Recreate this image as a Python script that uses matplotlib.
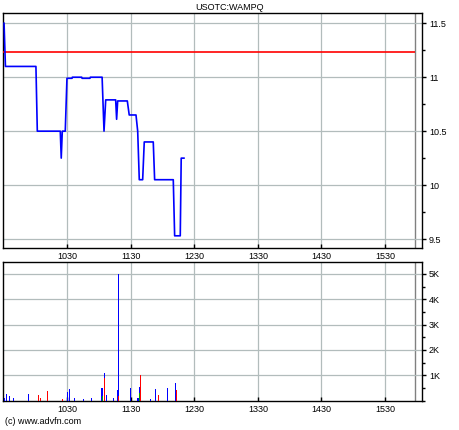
import matplotlib
matplotlib.use("Agg")
import matplotlib.pyplot as plt
from matplotlib.ticker import FixedLocator, FuncFormatter, MultipleLocator

# ---- data (minutes after 09:30) ----
title = "USOTC:WAMPQ"
price_t = [0.3, 1.6, 30.4, 31.7, 53.4, 54.3, 55.3, 58.1, 59.7, 64.5, 64.8, 73.6,
           74.0, 81.4, 81.8, 92.9, 94.7, 96.3, 105.7, 106.6, 107.6, 116.7, 118.5,
           124.9, 126.5, 128.0, 131.2, 132.7, 141.2, 142.5, 160.1, 161.4, 166.7,
           167.6, 170.2]
price_v = [11.5, 11.1, 11.1, 10.5, 10.5, 10.25, 10.5, 10.5, 10.99, 10.99, 11.0, 11.0,
           10.99, 10.99, 11.0, 11.0, 10.5, 10.79, 10.79, 10.61, 10.78, 10.78, 10.65,
           10.65, 10.5, 10.05, 10.05, 10.4, 10.4, 10.05, 10.05, 9.53, 9.53,
           10.25, 10.25]
prev_close = 11.23

vol_blue_t = [0.5, 2.2, 5.0, 8.8, 23.0, 60.2, 61.9, 66.6, 75.1, 82.7, 92.8, 93.7,
              94.9, 96.8, 103.4, 107.2, 108.1, 119.9, 126.8, 128.0, 138.4, 143.1,
              154.5, 162.0]
vol_blue_v = [120, 260, 190, 100, 260, 340, 470, 120, 70, 100, 510, 400,
              1100, 230, 120, 430, 5000, 510, 120, 550, 70, 470, 510, 710]
vol_red_t = [32.6, 34.5, 41.1, 55.3, 94.9, 108.0, 129.0, 146.0, 163.0]
vol_red_v = [230, 120, 400, 60, 880, 190, 1000, 230, 430]
vol_green_t = [93.0, 128.0]
vol_green_v = [200, 300]

x_ticks = [60, 120, 180, 240, 300, 360]
close_t = 388
xlim = (-0.7, 395)

FONT = "Liberation Sans"
FS = 6.5
GRID = "#b2bcbc"

def hhmm(m, pos=None):
    tot = 9 * 60 + 30 + int(round(m))
    return f"{tot // 60}{tot % 60:02d}"

fig = plt.figure(figsize=(4.6, 4.3), dpi=100)
ax1 = fig.add_axes([3 / 460, 1 - 248 / 430, 419 / 460, (248 - 12.7) / 430])
ax2 = fig.add_axes([3 / 460, 1 - 400.7 / 430, 419 / 460, (400.7 - 262) / 430])

for ax in (ax1, ax2):
    ax.set_xlim(*xlim)
    ax.xaxis.set_major_locator(FixedLocator(x_ticks))
    ax.xaxis.set_major_formatter(FuncFormatter(hhmm))
    ax.grid(True, color=GRID, lw=0.9, zorder=0)
    ax.axvline(close_t, color="#808080", lw=1, zorder=1)
    ax.yaxis.tick_right()
    ax.tick_params(axis="x", direction="in", length=3, width=1, pad=3,
                   labelsize=FS, bottom=True, top=False)
    ax.tick_params(axis="y", which="both", direction="out", right=True, left=False,
                   labelsize=FS, pad=2, width=1)
    ax.tick_params(axis="y", which="major", length=3)
    ax.tick_params(axis="y", which="minor", length=2)
    for lab in ax.get_xticklabels() + ax.get_yticklabels():
        lab.set_fontfamily(FONT)
    for s in ax.spines.values():
        s.set_linewidth(1)
        s.set_color("black")

# price panel
ax1.set_ylim(9.417, 11.598)
ax1.yaxis.set_major_locator(FixedLocator([9.5, 10, 10.5, 11, 11.5]))
ax1.yaxis.set_major_formatter(FuncFormatter(lambda v, p: f"{v:g}"))
ax1.yaxis.set_minor_locator(MultipleLocator(0.25))
ax1.hlines(prev_close, xlim[0], close_t, color="#ff0000", lw=1.2, zorder=3)
ax1.plot(price_t, price_v, color="#0000ff", lw=1.2, zorder=4)

# volume panel
ax2.set_ylim(0, 5470)
ax2.yaxis.set_major_locator(FixedLocator([1000, 2000, 3000, 4000, 5000]))
ax2.yaxis.set_major_formatter(FuncFormatter(lambda v, p: f"{int(v / 1000)}K"))
ax2.yaxis.set_minor_locator(MultipleLocator(500))
ax2.bar(vol_blue_t, vol_blue_v, width=1.0, color="#0000ff", lw=0, zorder=3)
ax2.bar(vol_red_t, vol_red_v, width=1.0, color="#ff0000", lw=0, zorder=4)
ax2.bar(vol_green_t, vol_green_v, width=1.0, color="#00a000", lw=0, zorder=5)

for ax in (ax1, ax2):
    for lab in ax.get_xticklabels() + ax.get_yticklabels():
        lab.set_fontfamily(FONT)
        lab.set_fontsize(FS)

fig.text(0.5, 1 - 7 / 430, title, ha="center", va="center",
         fontsize=FS, family=FONT)
fig.text(5 / 460, 1 - 422 / 430, "(c) www.advfn.com", ha="left", va="center",
         fontsize=FS, family=FONT)

fig.savefig("out.png", dpi=100)
